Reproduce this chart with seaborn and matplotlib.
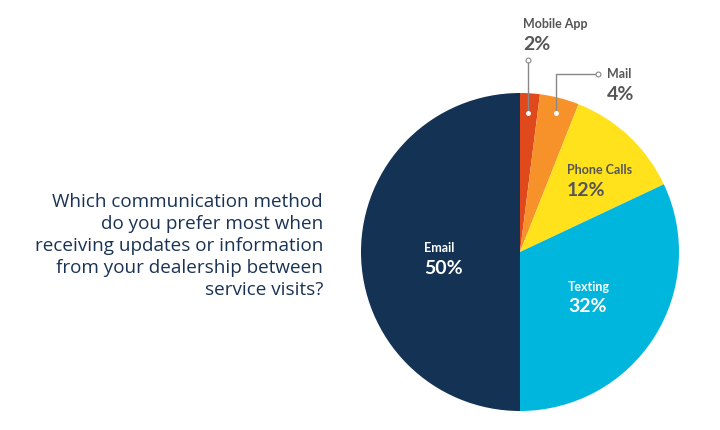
import matplotlib
matplotlib.use("Agg")
import matplotlib.pyplot as plt
import seaborn as sns

categories = ["Mobile App", "Mail", "Phone Calls", "Texting", "Email"]
values = [2, 4, 12, 32, 50]
colors = ["#E0491B", "#F7922B", "#FFE11C", "#00B6DC", "#133254"]
question = ("Which communication method\ndo you prefer most when\n"
            "receiving updates or information\nfrom your dealership between\nservice visits?")

sns.set_theme(style="white")
plt.rcParams["font.family"] = ["Lato", "DejaVu Sans"]

W, H = 720, 430
fig = plt.figure(figsize=(7.2, 4.3), dpi=100)
ax = fig.add_axes([0, 0, 1, 1])
pal = sns.color_palette(colors)

cx, cy, r = 520, H - 252, 159
ax.pie(values, colors=pal, startangle=90, counterclock=False,
       center=(cx, cy), radius=r, wedgeprops=dict(linewidth=0))
ax.set_xlim(0, W)
ax.set_ylim(0, H)
ax.set_aspect("equal")
ax.axis("off")

def Y(y):
    return H - y

gray = "#555555"
# Mobile App label
ax.text(523, Y(24), categories[0], fontsize=9, fontweight="bold", color=gray, ha="left", va="center")
ax.text(523, Y(44), f"{values[0]}%", fontsize=14, fontweight="bold", color=gray, ha="left", va="center")
ax.plot([528, 528], [Y(60), Y(113)], color="#888888", lw=1)
ax.plot([528], [Y(60)], marker="o", ms=3.5, mfc="white", mec="#888888", mew=0.8)
ax.plot([528], [Y(113)], marker="o", ms=2.5, mfc="white", mec="white")
# Mail label
ax.text(607, Y(74), categories[1], fontsize=9, fontweight="bold", color=gray, ha="left", va="center")
ax.text(607, Y(94), f"{values[1]}%", fontsize=14, fontweight="bold", color=gray, ha="left", va="center")
ax.plot([598, 556, 556], [Y(74), Y(74), Y(113)], color="#888888", lw=1)
ax.plot([598], [Y(74)], marker="o", ms=3.5, mfc="white", mec="#888888", mew=0.8)
ax.plot([556], [Y(113)], marker="o", ms=2.5, mfc="white", mec="white")
# Inside labels
inside = [(2, 567, 170, gray), (3, 568, 287, "white"), (4, 424, 248, "white")]
for i, x, y, c in inside:
    ax.text(x, Y(y), categories[i], fontsize=9, fontweight="bold", color=c, ha="left", va="center")
    ax.text(x, Y(y + 20), f"{values[i]}%", fontsize=14, fontweight="bold", color=c, ha="left", va="center")

ax.text(323, Y(246), question, fontsize=13.6, color="#1A3355", ha="right", va="center",
        linespacing=1.27, family=["Open Sans", "DejaVu Sans"])

fig.savefig("out.png", dpi=100)
